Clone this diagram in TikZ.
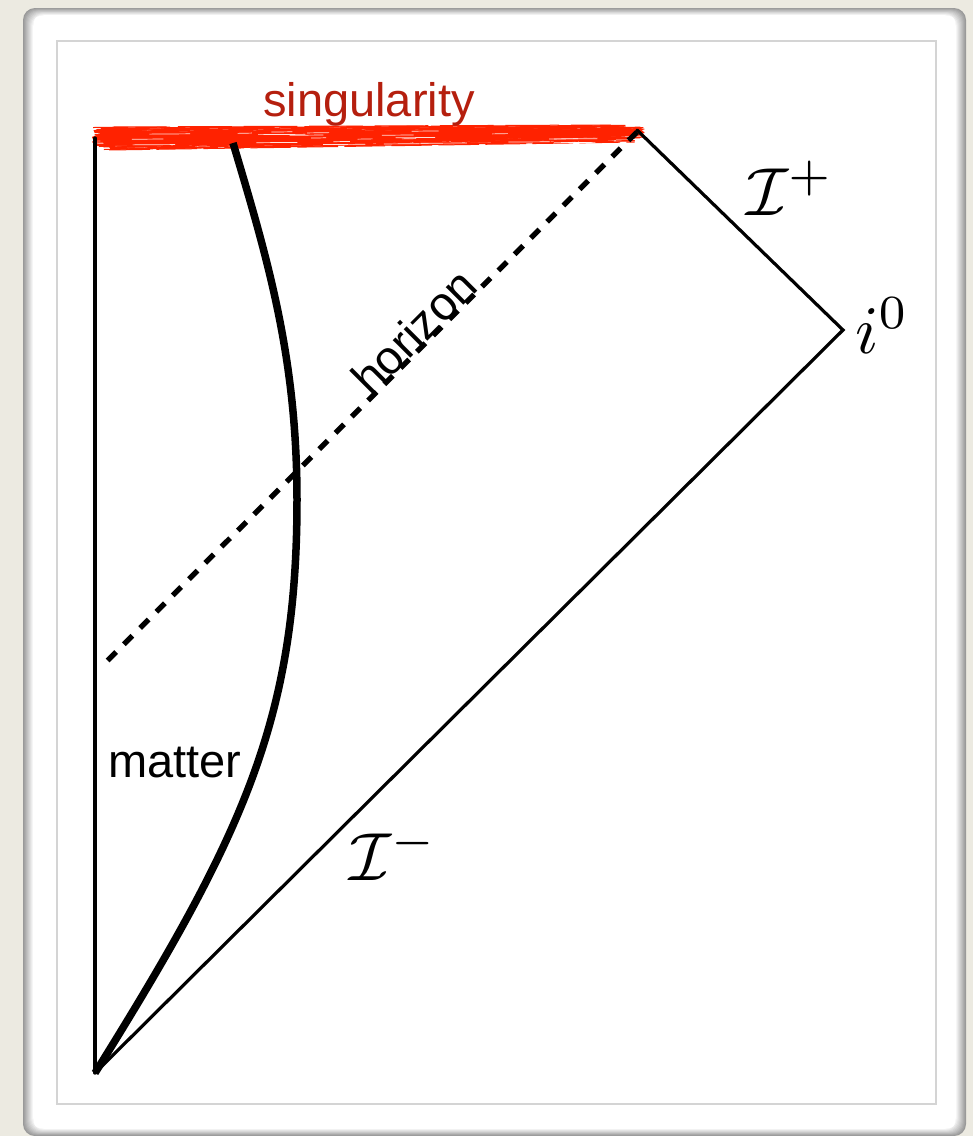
\documentclass[tikz,border=0pt]{standalone}
\usepackage{fontspec}
\setmainfont{Liberation Sans}
\definecolor{bgbeige}{HTML}{ECEAE1}
\definecolor{brushred}{HTML}{FF2200}
\definecolor{labelred}{HTML}{B51F0E}
\newcommand{\bigmath}[1]{\scalebox{6.8}{$#1$}}
\tikzset{
  edge/.style={line width=3.2pt, line cap=round, line join=miter},
  matterline/.style={line width=7.5pt, line cap=butt},
  horizonline/.style={line width=5.3pt, dash pattern=on 12pt off 11pt},
  sanslabel/.style={font=\fontsize{47}{56}\selectfont, inner sep=0pt, anchor=base west},
  mathlabel/.style={inner sep=0pt, anchor=base west},
}
\begin{document}
\begin{tikzpicture}[x=1pt,y=-1pt]
\useasboundingbox (0,0) rectangle (973,1136);
\fill[bgbeige] (0,0) rectangle (973,1136);
% card with soft edge
\foreach \i in {0,...,10}{
  \pgfmathsetmacro\g{40-\i*4}
  \fill[black!\g, rounded corners=12pt] (23+\i,8+\i*0.7) rectangle (966-\i,1136-\i*0.7);
}
\fill[white, rounded corners=6pt] (34,16) rectangle (955,1128);
% inner panel
\draw[black!17, line width=1.5pt, fill=white] (57,41) rectangle (936,1104);

% key points
\coordinate (bot) at (95,1073);
\coordinate (ltop) at (95,138);
\coordinate (rtop) at (637,130);
\coordinate (izero) at (843,330);
\coordinate (hstart) at (637,132);
\coordinate (hend) at (100,668);
\coordinate (mtop) at (233,143);
\coordinate (mmid) at (297,500);

% singularity brush stroke
\pgfmathsetseed{11}
\fill[brushred] (100,132) -- (300,131) -- (625,129) -- (632,135) -- (300,145) -- (104,145) -- cycle;
\foreach \k in {0,...,46}{
  \pgfmathsetmacro\f{\k/46}
  \pgfmathsetmacro\yl{127+\f*23}
  \pgfmathsetmacro\yr{125+\f*17}
  \pgfmathsetmacro\xa{92+rnd*(abs(\f-0.45)*70)}
  \pgfmathsetmacro\xb{645-rnd*(abs(\f-0.4)*90)}
  \pgfmathsetmacro\on{15+rnd*110}
  \pgfmathsetmacro\off{2+rnd*14}
  \draw[brushred, line width=1pt, dash pattern=on \on pt off \off pt] (\xa,\yl) -- (\xb,\yr);
}
\foreach \k in {0,...,24}{
  \pgfmathsetmacro\yy{131+rnd*14}
  \pgfmathsetmacro\xa{110+rnd*480}
  \pgfmathsetmacro\len{10+rnd*45}
  \draw[white, line width=0.7pt, opacity=0.85] (\xa,\yy) -- ++(\len,-0.3);
}

% diagram lines
\draw[edge] (ltop) -- (bot);
\draw[edge] (rtop) -- (izero) -- (bot);
\draw[horizonline] (hstart) -- (hend);
\draw[matterline] (mtop) .. controls (269,263) and (297,360) .. (mmid)
  .. controls (297,720) and (243,835.5) .. (bot);

% labels
\node[sanslabel, text=labelred] (sing) at (263,116) {singularity};
\node[sanslabel] (matter) at (108,777) {matter};
\node[font=\fontsize{47}{56}\selectfont, inner sep=0pt, anchor=base, rotate=45] (horizon) at (426,343) {horizon};
\node[mathlabel] (scriplus) at (746,215) {\bigmath{\mathcal{I}^+}};
\node[mathlabel] (scriminus) at (349,880) {\bigmath{\mathcal{I}^-}};
\node[mathlabel] (izerolabel) at (855,353) {\bigmath{i^0}};
\end{tikzpicture}
\end{document}
